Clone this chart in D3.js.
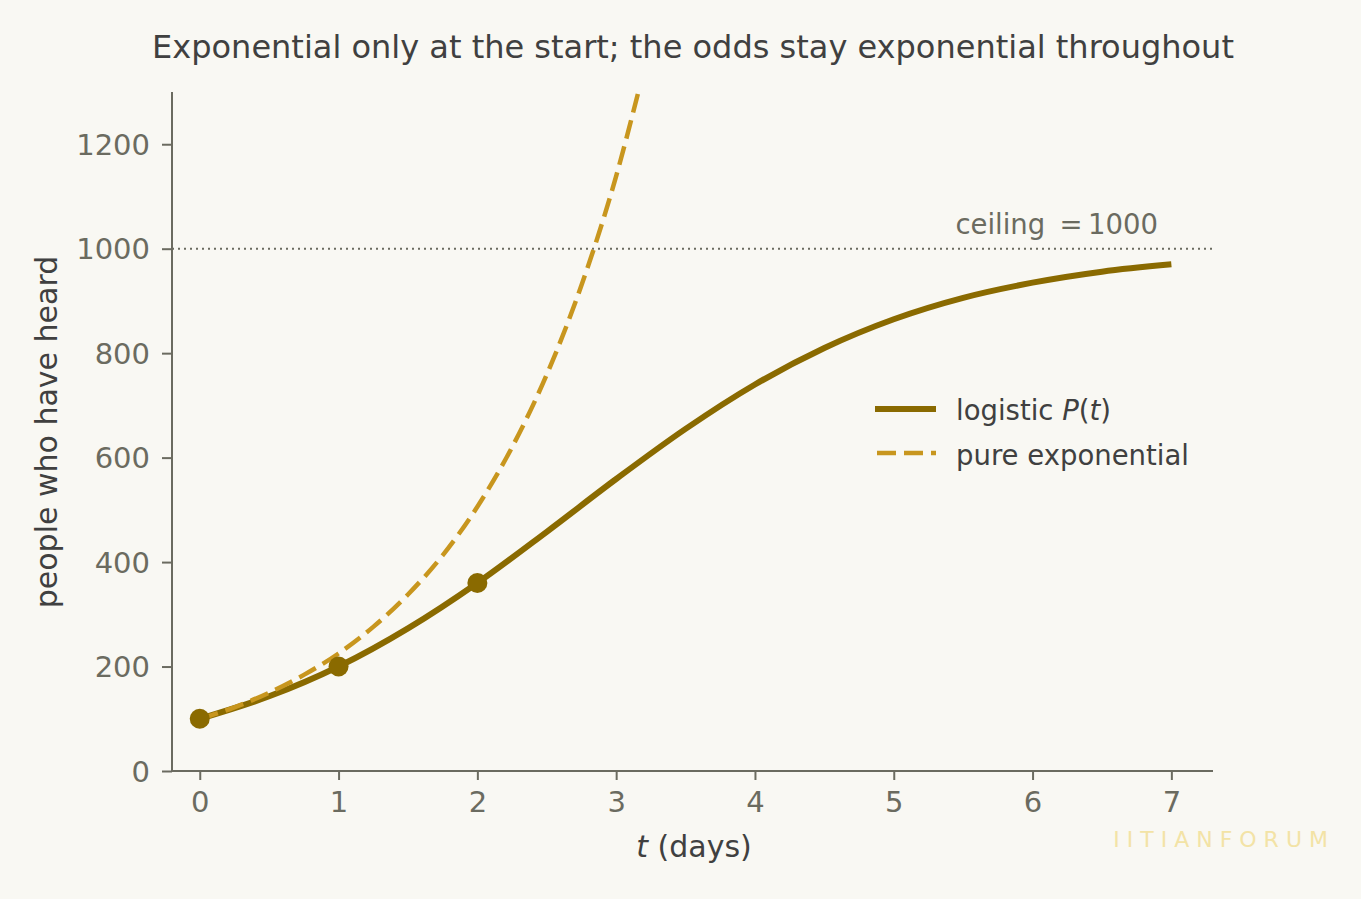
<!DOCTYPE html>
<html>
<head>
<meta charset="utf-8">
<script src="https://cdn.jsdelivr.net/npm/d3@7"></script>
<style>
  body { margin: 0; background: #f9f8f3; }
  svg { font-family: "DejaVu Sans", sans-serif; }
</style>
</head>
<body>
<script>
// values
var logisticT = [0, 0.5, 1, 1.5, 2, 2.5, 3, 3.5, 4, 4.5, 5, 5.5, 6, 6.5, 7];
var logisticP = [100, 143, 200, 273, 360, 458, 559, 655, 740, 810, 865, 906, 935, 956, 970];
var expT = [0, 0.25, 0.5, 0.75, 1, 1.25, 1.5, 1.75, 2, 2.25, 2.5, 2.75, 3, 3.16];
var expP = [100, 122, 150, 184, 225, 276, 338, 413, 506, 620, 759, 930, 1139, 1300];
var dayT = [0, 1, 2];
var dayP = [100, 200, 360];
var xTicks = [0, 1, 2, 3, 4, 5, 6, 7];
var yTicks = [0, 200, 400, 600, 800, 1000, 1200];
var ceiling = 1000;

var W = 1361, H = 899;
var m = {left: 172, right: 148, top: 92, bottom: 128};

var svg = d3.select("body").append("svg").attr("width", W).attr("height", H);
svg.append("rect").attr("width", W).attr("height", H).attr("fill", "#f9f8f3");

var x = d3.scaleLinear().domain([-0.2, 7.3]).range([m.left, W - m.right]);
var y = d3.scaleLinear().domain([0, 1300]).range([H - m.bottom, m.top]);

var axisCol = "#6b6b60";
var logCol = "#8a6a00", expCol = "#c8961e";

svg.append("defs").append("clipPath").attr("id", "plot")
  .append("rect").attr("x", m.left).attr("y", m.top)
  .attr("width", W - m.right - m.left).attr("height", H - m.bottom - m.top);

// ceiling
svg.append("line")
  .attr("x1", x(-0.2)).attr("x2", x(7.3))
  .attr("y1", y(ceiling)).attr("y2", y(ceiling))
  .attr("stroke", "#6b6b60").attr("stroke-width", 2)
  .attr("stroke-dasharray", "2,4");
svg.append("text")
  .attr("x", 1158).attr("y", y(ceiling) - 15)
  .attr("text-anchor", "end").attr("font-size", 27.5).attr("fill", "#6b6b60")
  .text("ceiling \u2009=\u20091000");

var line = d3.line()
  .x(function(d) { return x(d[0]); })
  .y(function(d) { return y(d[1]); })
  .curve(d3.curveMonotoneX);

var g = svg.append("g").attr("clip-path", "url(#plot)");

g.append("path")
  .attr("fill", "none").attr("stroke", logCol).attr("stroke-width", 6)
  .attr("d", line(d3.zip(logisticT, logisticP)));

g.append("path")
  .attr("fill", "none").attr("stroke", expCol).attr("stroke-width", 4.5)
  .attr("stroke-dasharray", "19,8")
  .attr("d", line(d3.zip(expT, expP)));

g.selectAll("circle.day")
  .data(d3.zip(dayT, dayP))
  .enter().append("circle")
  .attr("class", "day")
  .attr("cx", function(d) { return x(d[0]); })
  .attr("cy", function(d) { return y(d[1]); })
  .attr("r", 10)
  .attr("fill", logCol);

// axes
var xAxis = svg.append("g")
  .attr("transform", "translate(0," + (H - m.bottom) + ")")
  .call(d3.axisBottom(x).tickValues(xTicks).tickSize(9).tickPadding(11));
var yAxis = svg.append("g")
  .attr("transform", "translate(" + m.left + ",0)")
  .call(d3.axisLeft(y).tickValues(yTicks).tickFormat(d3.format("d")).tickSize(10).tickPadding(12));

[xAxis, yAxis].forEach(function(a) {
  a.select(".domain").attr("stroke", axisCol).attr("stroke-width", 2);
  a.selectAll(".tick line").attr("stroke", axisCol).attr("stroke-width", 2);
  a.selectAll(".tick text").attr("fill", axisCol).attr("font-size", 29)
    .attr("font-family", "DejaVu Sans, sans-serif");
});
yAxis.selectAll(".tick text").attr("dy", "0.35em");
// no end caps on the spines
xAxis.select(".domain").attr("d", "M" + m.left + ",0H" + (W - m.right));
yAxis.select(".domain").attr("d", "M0," + (H - m.bottom) + "V" + m.top);

// labels
svg.append("text")
  .attr("x", 693).attr("y", 58)
  .attr("text-anchor", "middle").attr("font-size", 32).attr("fill", "#404040")
  .text("Exponential only at the start; the odds stay exponential throughout");

var xl = svg.append("text")
  .attr("x", 694).attr("y", 857)
  .attr("text-anchor", "middle").attr("font-size", 30).attr("fill", "#404040");
xl.append("tspan").attr("font-style", "italic").text("t");
xl.append("tspan").text(" (days)");

svg.append("text")
  .attr("transform", "translate(57,432) rotate(-90)")
  .attr("text-anchor", "middle").attr("font-size", 30).attr("fill", "#404040")
  .text("people who have heard");

// legend
var lg = svg.append("g").attr("transform", "translate(875,409)");
lg.append("line").attr("x1", 0).attr("x2", 61).attr("y1", 0).attr("y2", 0)
  .attr("stroke", logCol).attr("stroke-width", 6);
lg.append("line").attr("x1", 2).attr("x2", 61).attr("y1", 44).attr("y2", 44)
  .attr("stroke", expCol).attr("stroke-width", 4.5).attr("stroke-dasharray", "19,8");
var t1 = lg.append("text").attr("x", 81).attr("y", 11).attr("font-size", 27.5).attr("fill", "#404040");
t1.append("tspan").text("logistic ");
t1.append("tspan").attr("font-style", "italic").text("P");
t1.append("tspan").text("(");
t1.append("tspan").attr("font-style", "italic").text("t");
t1.append("tspan").text(")");
lg.append("text").attr("x", 81).attr("y", 56).attr("font-size", 27.5).attr("fill", "#404040")
  .text("pure exponential");

// watermark
svg.append("text")
  .attr("x", 1335).attr("y", 847)
  .attr("text-anchor", "end").attr("font-size", 22).attr("fill", "#f3e3a6")
  .attr("letter-spacing", 7)
  .text("IITIANFORUM");
</script>
</body>
</html>
